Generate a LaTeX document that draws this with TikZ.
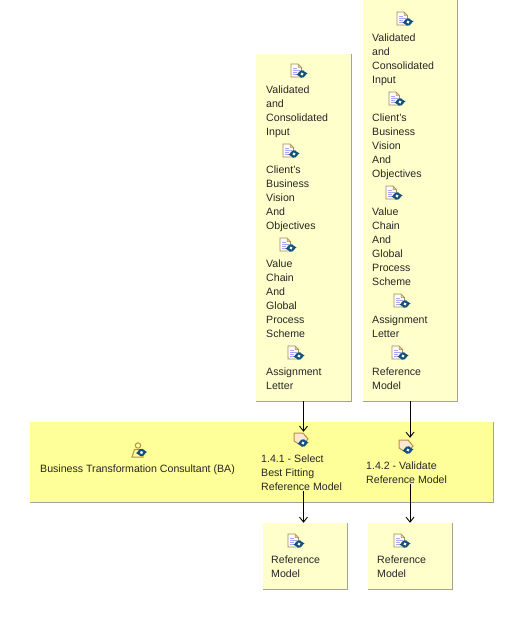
\documentclass[tikz,border=0pt]{standalone}
\usepackage{fontspec}
\usetikzlibrary{arrows.meta}
\setmainfont{Liberation Sans}
\definecolor{paleyellow}{HTML}{FFFFCC}
\definecolor{bandyellow}{HTML}{FFFF99}
\definecolor{edgegray}{HTML}{A3A396}
\definecolor{icontan}{HTML}{B98F4E}
\definecolor{iconblue}{HTML}{12507F}
\tikzset{
  sheet/.style={fill=paleyellow,inner sep=0pt},
  band/.style={fill=bandyellow,inner sep=0pt},
  shadowline/.style={edgegray,line width=0.9pt},
  caption/.style={anchor=north west,inner sep=0pt,align=left,font=\fontsize{10.6}{14}\selectfont,text=black!85},
  iconspot/.style={inner sep=0pt,minimum size=14pt},
  flow/.style={->,black,line width=0.9pt,>={Straight Barb[length=5pt,width=8pt]}},
  sync/.pic={
    \fill[iconblue,rotate=25] (0,0) circle (3.8);
    \fill[white,rotate=25] (0,0) circle (1.6);
    \fill[iconblue] (-5.5,0.6)--(-2.5,-1.6)--(-2.5,2.2)--cycle;
    \fill[iconblue] (5.5,-0.6)--(2.5,1.6)--(2.5,-2.2)--cycle;
  },
  docicon/.pic={
    \draw[fill=white!70!paleyellow,draw=icontan!60!gray,line width=0.6pt] (-7,-7)--(0,-7)--(3.5,-3.5)--(3.5,6)--(-7,6)--cycle;
    \draw[fill=icontan!45,draw=icontan,line width=0.5pt] (0,-7)--(0,-3.5)--(3.5,-3.5)--cycle;
    \draw[blue!35,line width=0.7pt] (-5.5,-3)--(-1.5,-3) (-5.5,-1)--(1.5,-1) (-5.5,1)--(-1,1) (-5.5,3)--(-1,3);
    \pic at (4,3) {sync};
  },
  acticon/.pic={
    \draw[fill=orange!18,draw=icontan,line width=1pt] (-8,-6)--(1,-6)--(6,0)--(0,7)--(-8,2)--cycle;
    \pic at (1,4) {sync};
  },
  actoricon/.pic={
    \draw[fill=bandyellow,draw=icontan,line width=1pt] (-1,-5.5) circle (2.7);
    \draw[fill=bandyellow,draw=icontan,line width=1pt] (-7,6)--(-4.5,-1.5)--(2,-1.5)--(4,6)--cycle;
    \pic at (2.5,1.5) {sync};
  },
}
\begin{document}
\begin{tikzpicture}[x=1pt,y=-1pt]
\useasboundingbox (0,0) rectangle (513,631);
% input and output sheets
\node(inputA) at (303.5,227.5)[sheet,minimum width=95pt,minimum height=347pt]{};
\node(inputB) at (410,200.5)[sheet,minimum width=94pt,minimum height=401pt]{};
\node(roleband) at (261.5,462)[band,minimum width=463pt,minimum height=80pt]{};
\node(outputA) at (305,556)[sheet,minimum width=84pt,minimum height=66pt]{};
\node(outputB) at (410,556)[sheet,minimum width=84pt,minimum height=66pt]{};
\foreach \sheetname in {inputA,inputB,roleband,outputA,outputB}
  \draw[shadowline] (\sheetname.north east) -- (\sheetname.south east) -- (\sheetname.south west);
% left input column
\pic at (298,71) {docicon};
\node(validA) at (266,86)[caption]{Validated\\and\\Consolidated\\Input};
\pic at (290,151) {docicon};
\node(visionA) at (266,166)[caption]{Client's\\Business\\Vision\\And\\Objectives};
\pic at (287,245) {docicon};
\node(chainA) at (266,260)[caption]{Value\\Chain\\And\\Global\\Process\\Scheme};
\pic at (295,353) {docicon};
\node(letterA) at (266,368)[caption]{Assignment\\Letter};
% right input column
\pic at (404,19) {docicon};
\node(validB) at (372,34)[caption]{Validated\\and\\Consolidated\\Input};
\pic at (396,99) {docicon};
\node(visionB) at (372,114)[caption]{Client's\\Business\\Vision\\And\\Objectives};
\pic at (393,193) {docicon};
\node(chainB) at (372,208)[caption]{Value\\Chain\\And\\Global\\Process\\Scheme};
\pic at (401,301) {docicon};
\node(letterB) at (372,316)[caption]{Assignment\\Letter};
\pic at (399,353) {docicon};
\node(modelB) at (372,368)[caption]{Reference\\Model};
% role band
\pic at (139,451) {actoricon};
\node(consultant) at (40,465)[caption]{Business Transformation Consultant (BA)};
\pic at (302,439) {acticon};
\node(selecticon) at (302,439)[iconspot]{};
\node(selecttext) at (261,455)[caption]{1.4.1 - Select\\Best Fitting\\Reference Model};
\pic at (407,446) {acticon};
\node(validicon) at (407,445)[iconspot]{};
\node(validtext) at (366,462)[caption]{1.4.2 - Validate\\Reference Model};
% outputs
\pic at (295,541) {docicon};
\node(modelC) at (271,556)[caption]{Reference\\Model};
\pic at (401,541) {docicon};
\node(modelD) at (377,556)[caption]{Reference\\Model};
\path [flow]
  (inputA.south)                 edge (inputA.south |- selecticon.north)
  (inputB.south)                 edge (inputB.south |- validicon.north)
  (inputA.south |- selecttext.south) edge (inputA.south |- outputA.north)
  (outputB.north |- validtext.south) edge (outputB.north);
\end{tikzpicture}
\end{document}
